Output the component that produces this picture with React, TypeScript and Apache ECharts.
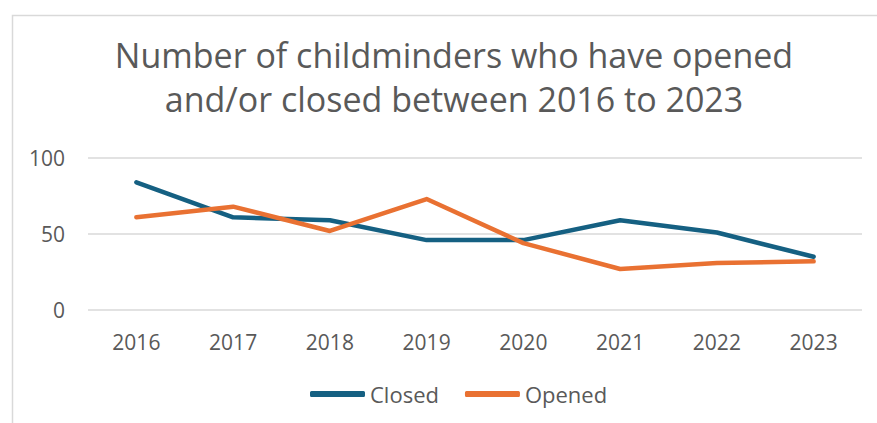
import React, { useEffect, useRef } from "react";
import * as echarts from "echarts";

const years = ["2016", "2017", "2018", "2019", "2020", "2021", "2022", "2023"];
const closed = [84, 61, 59, 46, 46, 59, 51, 35];
const opened = [61, 68, 52, 73, 44, 27, 31, 32];
const titleText = "Number of childminders who have opened\nand/or closed between 2016 to 2023";
const FONT = "'Open Sans', sans-serif";
const TXT = "#595959";

export default function App() {
  const ref = useRef<HTMLDivElement>(null);
  useEffect(() => {
    if (!ref.current) return;
    const chart = echarts.init(ref.current, undefined, { renderer: "svg" });
    chart.setOption({
      animation: false,
      backgroundColor: "#ffffff",
      graphic: [
        {
          type: "rect",
          left: 10,
          top: 13,
          shape: { x: 0, y: 0, width: 900, height: 500 },
          style: { fill: "none", stroke: "#d9d9d9", lineWidth: 1.5 },
          silent: true,
          z: -10,
        },
      ],
      title: {
        text: titleText,
        left: 449,
        textAlign: "center",
        top: 28,
        textStyle: {
          fontFamily: FONT,
          fontSize: 34,
          fontWeight: "normal",
          color: TXT,
          lineHeight: 44,
        },
      },
      legend: {
        data: ["Closed", "Opened"],
        left: 305,
        top: 378,
        icon: "roundRect",
        itemWidth: 55,
        itemHeight: 6,
        itemGap: 26,
        textStyle: { fontFamily: FONT, fontSize: 22, color: TXT },
      },
      grid: { left: 88, right: 15, top: 158, height: 152 },
      xAxis: {
        type: "category",
        data: years,
        boundaryGap: true,
        axisLine: { show: false },
        axisTick: { show: false },
        axisLabel: { fontFamily: FONT, fontSize: 21, color: TXT, margin: 21 },
      },
      yAxis: {
        type: "value",
        min: 0,
        max: 100,
        interval: 50,
        axisLine: { show: false },
        axisTick: { show: false },
        splitLine: { lineStyle: { color: "#d9d9d9", width: 1.5 } },
        axisLabel: { fontFamily: FONT, fontSize: 21, color: TXT, margin: 23 },
      },
      series: [
        {
          name: "Closed",
          type: "line",
          data: closed,
          symbol: "none",
          color: "#156082",
          lineStyle: { width: 4.5, color: "#156082", cap: "round", join: "round" },
        },
        {
          name: "Opened",
          type: "line",
          data: opened,
          symbol: "none",
          color: "#E97132",
          lineStyle: { width: 4.5, color: "#E97132", cap: "round", join: "round" },
        },
      ],
    });
    return () => chart.dispose();
  }, []);
  return (
    <div
      ref={ref}
      style={{ position: "fixed", left: 0, top: 0, width: 877, height: 423 }}
    />
  );
}
